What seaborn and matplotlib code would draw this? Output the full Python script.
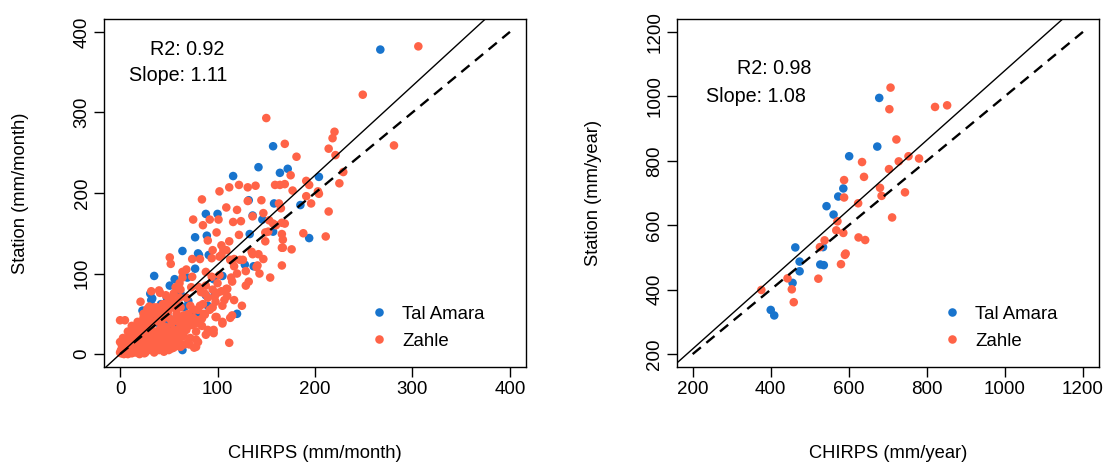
import numpy as np
import pandas as pd
import matplotlib
matplotlib.use("Agg")
import matplotlib.pyplot as plt
import seaborn as sns

# ---------------- data: monthly (left panel) ----------------
tal_month_x = [267, 157, 142, 172, 164, 204, 116, 185, 194, 158, 132, 136, 146, 88, 100,
               157, 133, 77, 89, 64, 80, 91, 81, 128, 137, 105, 96, 77, 69, 56, 35, 51,
               88, 97, 120, 79, 75, 85, 64, 32, 44, 43, 23, 31, 62, 59, 12, 2, 33,
               5, 8, 15, 18, 22, 10, 25, 28, 40, 45, 50, 38, 55, 20, 30, 3, 6, 14, 48,
               28, 36, 52, 66, 70, 42, 18, 8, 60, 35, 90, 48]
tal_month_y = [378, 258, 232, 230, 225, 220, 221, 185, 144, 187, 191, 172, 167, 174, 174,
               152, 149, 145, 147, 128, 125, 123, 123, 111, 109, 97, 93, 106, 95, 93, 97, 85,
               73, 73, 50, 49, 48, 49, 5, 67, 56, 54, 54, 75, 75, 46, 27, 6, 69,
               3, 10, 12, 20, 18, 15, 30, 35, 38, 30, 45, 25, 35, 8, 15, 2, 5, 22, 40,
               25, 44, 40, 58, 66, 62, 26, 18, 30, 15, 60, 70]

zahle_month_x = [306, 249, 150, 281, 169, 220, 218, 214, 221, 181, 175, 229, 191, 194, 225,
                 164, 169, 159, 139, 131, 122, 112, 102, 177, 203, 204, 191, 196, 214, 211,
                 84, 109, 120, 131, 145, 163, 165, 147, 136, 75, 92, 101, 85, 116, 124, 153,
                 157, 169, 166, 160, 149, 166, 99, 122, 152, 167, 90, 112, 149, 167, 104,
                 106, 95, 109, 51, 52, 74, 82, 102, 113, 117, 123, 136, 135, 147, 126, 166,
                 166, 141, 117, 129, 129, 114, 102, 94, 88, 68, 64, 61, 57, 73, 81, 88, 83,
                 97, 107, 100, 110, 98, 87, 78, 112, 69, 64, 32, 41, 21, 47, 57, 60, 51, 0,
                 5, 30, 28, 35, 50, 78, 64, 38, 42, 74, 64, 40, 87, 117, 95, 99, 94, 104,
                 140, 109, 142, 60,
                 1, 2, 3, 4, 5, 6, 7, 8, 9, 10, 11, 12, 13, 14, 15, 16, 17, 18, 19, 20, 21,
                 22, 23, 24, 25, 26, 27, 28, 29, 30, 31, 32, 33, 34, 35, 36, 37, 38, 39, 40,
                 41, 42, 43, 44, 45, 46, 47, 48, 49, 50, 52, 53, 54, 55, 56, 57, 58, 60, 62,
                 63, 65, 66, 68, 70, 72, 74, 76, 78, 80, 82, 84, 86, 3, 6, 9, 12, 15, 18, 20,
                 22, 25, 27, 30, 33, 36, 38, 40, 43, 46, 49, 52, 55, 58, 61, 10, 14, 24, 30,
                 20, 25, 35, 45, 50, 55, 60, 66, 70, 8, 12, 16, 4, 0, 1, 2, 0, 3, 11, 19,
                 27, 34, 44, 53, 62, 71, 90, 96, 105, 115, 125, 132, 143, 154, 176, 188,
                 60, 65, 70, 75, 80, 85, 90, 95, 100, 105, 110, 115, 120, 72, 68, 62, 58,
                 45, 48, 42, 35, 28, 22, 18, 14, 10, 7, 30, 40, 52, 58, 64, 70, 78, 84, 92,
                 98, 104, 55, 62, 50, 44, 38, 32, 26, 20, 16, 24, 18, 12, 8, 5, 2, 36, 44,
                 26, 15, 10, 3, 113, 105, 96, 88, 80, 76]
zahle_month_y = [382, 322, 293, 259, 261, 276, 268, 255, 247, 245, 222, 226, 215, 210, 212,
                 210, 211, 210, 209, 207, 210, 207, 202, 203, 202, 199, 196, 187, 177, 146,
                 192, 182, 179, 190, 191, 187, 181, 175, 171, 167, 167, 167, 160, 164, 165, 166,
                 162, 162, 163, 160, 151, 149, 151, 148, 152, 142, 141, 140, 140, 132, 135,
                 129, 129, 129, 120, 112, 118, 118, 121, 117, 118, 117, 124, 127, 118, 117, 110,
                 132, 110, 109, 103, 85, 95, 98, 96, 102, 105, 95, 88, 83, 83, 83, 85, 77,
                 71, 67, 76, 81, 46, 49, 18, 14, 35, 22, 78, 76, 65, 73, 56, 46, 44, 42,
                 42, 59, 56, 58, 60, 9, 102, 6, 17, 96, 22, 79, 75, 67, 58, 46, 119, 123,
                 108, 81, 124, 31,
                 1, 3, 1, 5, 2, 4, 8, 3, 6, 2, 9, 5, 12, 7, 3, 10, 14, 6, 11, 4, 16,
                 9, 13, 20, 7, 15, 11, 22, 5, 18, 12, 25, 9, 20, 14, 28, 7, 17, 23, 12,
                 31, 19, 10, 26, 15, 34, 21, 8, 29, 17, 24, 38, 13, 30, 20, 42, 27, 16, 33,
                 45, 24, 38, 30, 50, 20, 36, 55, 28, 42, 60, 35, 50, 8, 12, 15, 20, 25, 30, 35,
                 28, 40, 33, 45, 38, 50, 42, 55, 48, 62, 52, 58, 66, 62, 70, 22, 30, 45, 55,
                 0, 1, 2, 3, 5, 8, 10, 12, 15, 0, 1, 2, 0, 2, 5, 10, 15, 20, 4, 6,
                 5, 4, 6, 7, 9, 12, 30, 26, 38, 48, 60, 90, 100, 95, 130, 150,
                 40, 48, 35, 45, 55, 62, 70, 80, 88, 60, 72, 90, 100, 60, 70, 58, 50,
                 45, 55, 38, 40, 30, 22, 18, 14, 10, 6, 8, 5, 12, 18, 28, 42, 38, 44, 55,
                 65, 78, 75, 80, 68, 62, 58, 50, 38, 30, 24, 50, 40, 35, 28, 18, 12, 5, 8,
                 2, 5, 7, 3, 45, 40, 30, 24, 15, 8]

# ---------------- data: yearly (right panel) ----------------
tal_year_x = [678, 673, 601, 586, 573, 543, 561, 463, 474, 474, 527, 536, 534, 456, 400, 409]
tal_year_y = [995, 844, 814, 714, 689, 659, 633, 531, 487, 457, 478, 476, 532, 421, 337, 320]

zahle_year_x = [707, 704, 722, 634, 753, 780, 728, 703, 639, 588, 680, 684, 744, 588, 624,
                711, 571, 568, 586, 538, 526, 590, 592, 580, 625, 642, 443, 454, 459, 376,
                522, 821, 852]
zahle_year_y = [1027, 960, 866, 796, 814, 807, 798, 774, 750, 740, 716, 691, 702, 686, 668,
                624, 612, 584, 576, 553, 532, 508, 512, 479, 562, 554, 435, 401, 361, 399,
                434, 967, 972]

stations = ["Tal Amara", "Zahle"]
palette = {"Tal Amara": "#1874CD", "Zahle": "#FF6347"}

month_r2, month_slope = "0.92", "1.11"
year_r2, year_slope = "0.98", "1.08"

month_ticks = [0, 100, 200, 300, 400]
year_ticks = [200, 400, 600, 800, 1000, 1200]

# ---------------- style ----------------
sns.set_theme(style="white")
plt.rcParams["font.family"] = ["Liberation Sans", "DejaVu Sans"]
for k in ["text.color", "axes.labelcolor", "xtick.color", "ytick.color", "axes.edgecolor"]:
    plt.rcParams[k] = "black"
plt.rcParams["axes.linewidth"] = 1.0

FS = 13.5


def make_df(tx, ty, zx, zy):
    return pd.DataFrame({
        "x": list(tx) + list(zx),
        "y": list(ty) + list(zy),
        "station": ["Tal Amara"] * len(tx) + ["Zahle"] * len(zx),
    })


def panel(ax, df, ticks, slope, r2, xlabel, ylabel, ann_pos, leg_anchor):
    lo, hi = ticks[0], ticks[-1]
    ext = (hi - lo) * 0.04
    sns.scatterplot(data=df, x="x", y="y", hue="station", hue_order=stations,
                    palette=palette, s=38, linewidth=0, edgecolor="none", ax=ax,
                    legend=True, zorder=2)
    ax.set_xlim(lo - ext, hi + ext)
    ax.set_ylim(lo - ext, hi + ext)
    # regression through origin (solid) and 1:1 line (dashed)
    ax.axline((0, 0), slope=float(slope), color="black", lw=1.0, zorder=3)
    ax.plot([lo, hi], [lo, hi], color="black", lw=1.7, dashes=(4.5, 3), zorder=3)
    ax.set_xticks(ticks)
    ax.set_yticks(ticks)
    ax.set_xticklabels([str(t) for t in ticks], fontsize=FS)
    ax.set_yticklabels([str(t) for t in ticks], fontsize=FS, rotation=90, va="center")
    ax.tick_params(axis="both", direction="out", length=7, width=1.0, color="black",
                   bottom=True, left=True)
    ax.tick_params(axis="x", pad=3)
    ax.tick_params(axis="y", pad=3)
    ax.set_xlabel(xlabel, fontsize=13.2, labelpad=34)
    ax.set_ylabel(ylabel, fontsize=13.2, labelpad=32)
    for sp in ax.spines.values():
        sp.set_visible(True)
        sp.set_color("black")
        sp.set_linewidth(1.0)
    (rx, ry), (sx, sy) = ann_pos
    ax.text(rx, ry, "R2: " + r2, transform=ax.transAxes, ha="center", va="center",
            fontsize=14.2)
    ax.text(sx, sy, "Slope: " + slope, transform=ax.transAxes, ha="center", va="center",
            fontsize=14.2)
    leg = ax.legend(loc="upper left", bbox_to_anchor=leg_anchor, frameon=False,
                    fontsize=13.4, handletextpad=0.25, labelspacing=0.55,
                    markerscale=1.0, borderaxespad=0, title=None)
    return leg


fig = plt.figure(figsize=(11.09, 4.65), dpi=100)
ax1 = fig.add_axes([0.0942, 0.2108, 0.3797, 0.7484])
ax2 = fig.add_axes([0.6105, 0.2108, 0.3801, 0.7484])

panel(ax1, make_df(tal_month_x, tal_month_y, zahle_month_x, zahle_month_y),
      month_ticks, month_slope, month_r2, "CHIRPS (mm/month)", "Station (mm/month)",
      ((0.197, 0.9135), (0.175, 0.839)), (0.59, 0.198))
panel(ax2, make_df(tal_year_x, tal_year_y, zahle_year_x, zahle_year_y),
      year_ticks, year_slope, year_r2, "CHIRPS (mm/year)", "Station (mm/year)",
      ((0.231, 0.859), (0.186, 0.778)), (0.59, 0.198))

fig.savefig("out.png", dpi=100, facecolor="white")
